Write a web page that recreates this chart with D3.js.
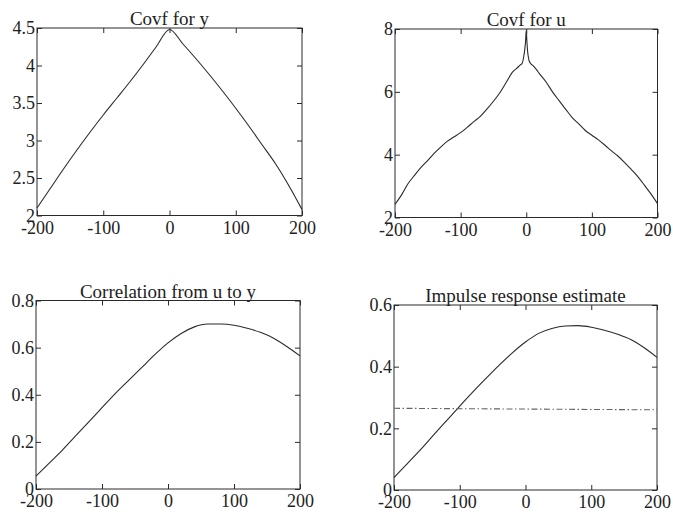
<!DOCTYPE html>
<html>
<head>
<meta charset="utf-8">
<script src="https://cdn.jsdelivr.net/npm/d3@7"></script>
<style>
  html, body { margin: 0; padding: 0; background: #ffffff; }
  svg { display: block; }
  text { font-family: "Liberation Serif", "Times New Roman", serif; fill: #222; }
</style>
</head>
<body>
<svg id="chart" width="673" height="515"></svg>
<script>
// ---------- data ----------
const xTicks = [-200, -100, 0, 100, 200];

const covfYLags = [-200,-180,-160,-140,-120,-100,-80,-60,-40,-20,0,20,40,60,80,100,120,140,160,180,200];
const covfYVals = [2.10,2.36,2.62,2.87,3.11,3.34,3.56,3.78,4.01,4.25,4.48,4.29,4.09,3.88,3.66,3.43,3.19,2.94,2.69,2.40,2.08];
const covfYTicks = [2, 2.5, 3, 3.5, 4, 4.5];

const covfULags = [-200,-190,-180,-170,-160,-150,-140,-130,-120,-110,-100,-90,-80,-70,-60,-50,-40,-30,-20,-15,-10,-6,-4,-2,-1,0,1,2,4,6,10,15,20,30,40,50,60,70,80,90,100,110,120,130,140,150,160,170,180,190,200];
const covfUVals = [2.42,2.72,3.08,3.35,3.60,3.82,4.05,4.25,4.43,4.57,4.70,4.87,5.05,5.22,5.45,5.70,5.98,6.32,6.65,6.74,6.84,6.92,7.10,7.40,7.62,7.96,7.60,7.30,7.02,6.92,6.84,6.72,6.58,6.32,6.00,5.72,5.45,5.18,4.98,4.77,4.62,4.47,4.30,4.12,3.95,3.75,3.53,3.30,3.03,2.75,2.44];
const covfUTicks = [2, 4, 6, 8];

const corrLags = [-200,-180,-160,-140,-120,-100,-80,-60,-40,-20,0,20,40,60,80,100,120,140,160,180,200];
const corrVals = [0.055,0.11,0.165,0.225,0.285,0.345,0.405,0.46,0.515,0.57,0.62,0.66,0.688,0.70,0.70,0.695,0.682,0.665,0.64,0.605,0.565];
const corrTicks = [0, 0.2, 0.4, 0.6, 0.8];

const impLags = [-200,-180,-160,-140,-120,-100,-80,-60,-40,-20,0,20,40,60,80,100,120,140,160,180,200];
const impVals = [0.04,0.085,0.13,0.178,0.225,0.272,0.318,0.362,0.405,0.445,0.48,0.508,0.524,0.532,0.533,0.528,0.518,0.505,0.488,0.462,0.43];
const impTicks = [0, 0.2, 0.4, 0.6];
const impBandLags = [-200, 200];
const impBandVals = [0.265, 0.26];

// ---------- layout ----------
const panels = [
  { title: "Covf for y", box: [37, 302, 28, 215.5], ydom: [2, 4.5], yticks: covfYTicks,
    series: [{ lags: covfYLags, vals: covfYVals }] },
  { title: "Covf for u", box: [395, 657.5, 29, 217.5], ydom: [2, 8], yticks: covfUTicks,
    series: [{ lags: covfULags, vals: covfUVals }] },
  { title: "Correlation from u to y", box: [36, 300, 300.5, 489], ydom: [0, 0.8], yticks: corrTicks,
    series: [{ lags: corrLags, vals: corrVals }] },
  { title: "Impulse response estimate", box: [394, 657, 305, 490], ydom: [0, 0.6], yticks: impTicks,
    series: [{ lags: impLags, vals: impVals },
             { lags: impBandLags, vals: impBandVals, dash: "6,2.5,1.5,2.5", color: "#666" }] }
];

const svg = d3.select("#chart");
const ink = "#2a2a2a";
const fmt = v => String(v);

panels.forEach(p => {
  const [x0, x1, y0, y1] = p.box;
  const x = d3.scaleLinear().domain([-200, 200]).range([x0, x1]);
  const y = d3.scaleLinear().domain(p.ydom).range([y1, y0]);
  const g = svg.append("g");

  const bottom = g.append("g").attr("transform", `translate(0,${y1})`)
    .call(d3.axisBottom(x).tickValues(xTicks).tickSize(-5).tickPadding(5).tickFormat(fmt));
  const top = g.append("g").attr("transform", `translate(0,${y0})`)
    .call(d3.axisTop(x).tickValues(xTicks).tickSize(-5).tickFormat(""));
  const left = g.append("g").attr("transform", `translate(${x0},0)`)
    .call(d3.axisLeft(y).tickValues(p.yticks).tickSize(-5).tickPadding(2).tickFormat(fmt));
  const right = g.append("g").attr("transform", `translate(${x1},0)`)
    .call(d3.axisRight(y).tickValues(p.yticks).tickSize(-5).tickFormat(""));

  [bottom, top, left, right].forEach(a => {
    a.select(".domain").remove();
    a.selectAll("line").attr("stroke", ink).attr("stroke-width", 1);
    a.selectAll("text").attr("font-family", "Liberation Serif").attr("font-size", 18).attr("fill", ink);
  });
  bottom.selectAll("text").attr("dy", "0.74em");

  g.append("rect").attr("x", x0).attr("y", y0).attr("width", x1 - x0).attr("height", y1 - y0)
    .attr("fill", "none").attr("stroke", ink).attr("stroke-width", 1);

  g.append("text").attr("x", (x0 + x1) / 2).attr("y", y0 - 3)
    .attr("text-anchor", "middle").attr("font-size", 19).attr("fill", ink)
    .text(p.title);

  p.series.forEach(s => {
    const pts = s.lags.map((l, i) => [l, s.vals[i]]);
    const line = d3.line().x(d => x(d[0])).y(d => y(d[1])).curve(d3.curveMonotoneX);
    g.append("path").attr("d", line(pts)).attr("fill", "none")
      .attr("stroke", s.color || ink).attr("stroke-width", 1.1)
      .attr("stroke-dasharray", s.dash || null);
  });
});
</script>
</body>
</html>
